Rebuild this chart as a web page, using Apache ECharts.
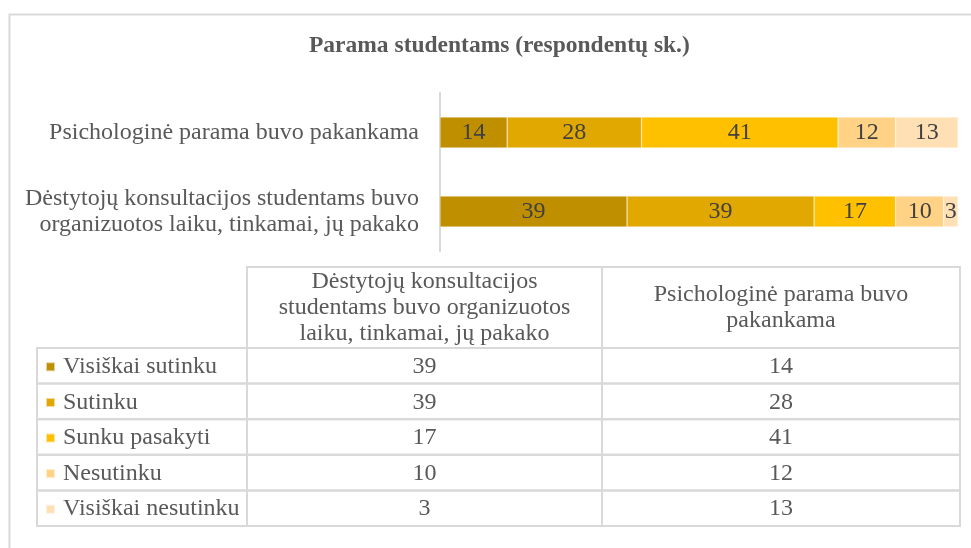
<!DOCTYPE html>
<html>
<head>
<meta charset="utf-8">
<script src="https://cdn.jsdelivr.net/npm/echarts@6/dist/echarts.min.js"></script>
<style>
  html, body { margin: 0; padding: 0; background: #fff; }
  #main { width: 971px; height: 548px; }
</style>
</head>
<body>
<div id="main"></div>
<script>
// kategorijos (apacia -> virsus)
var categories = [
  'Dėstytojų konsultacijos studentams buvo organizuotos laiku, tinkamai, jų pakako',
  'Psichologinė parama buvo pakankama'
];
var axisLabels = [
  'Dėstytojų konsultacijos studentams buvo\norganizuotos laiku, tinkamai, jų pakako',
  'Psichologinė parama buvo pakankama'
];
var tableHeaders = [
  'Dėstytojų konsultacijos\nstudentams buvo organizuotos\nlaiku, tinkamai, jų pakako',
  'Psichologinė parama buvo\npakankama'
];
var seriesNames = ['Visiškai sutinku', 'Sutinku', 'Sunku pasakyti', 'Nesutinku', 'Visiškai nesutinku'];
var visiskaiSutinku = [39, 14];
var sutinku = [39, 28];
var sunkuPasakyti = [17, 41];
var nesutinku = [10, 12];
var visiskaiNesutinku = [3, 13];
var colors = ['#BF8F00', '#E0A800', '#FFC000', '#FFD285', '#FFE0B4'];

var values = [visiskaiSutinku, sutinku, sunkuPasakyti, nesutinku, visiskaiNesutinku];
var font = '"Liberation Serif", "Times New Roman", serif';
var gridLine = '#d9d9d9';

var chartDom = document.getElementById('main');
var myChart = echarts.init(chartDom);

// lentele apacioje
var tblLeft = 37, colA = 247, colB = 602, tblRight = 960;
var headTop = 267, rowTop = 348, tblBottom = 526;
var rowH = (tblBottom - rowTop) / 5;
var graphics = [];

graphics.push({
  type: 'rect', left: 7, top: 12, silent: true,
  shape: { x: 0, y: 0, width: 1000, height: 600 },
  style: { fill: 'none', stroke: gridLine, lineWidth: 2 }
});

function cell(x, y, w, h) {
  graphics.push({
    type: 'rect', silent: true,
    shape: { x: x, y: y, width: w, height: h },
    style: { fill: 'none', stroke: gridLine, lineWidth: 2 }
  });
}
function txt(x, y, s) {
  graphics.push({
    type: 'text', silent: true, x: x, y: y,
    style: { text: s, font: '24px ' + font, fill: '#595959', align: 'center', verticalAlign: 'middle', lineHeight: 26 }
  });
}

cell(colA, headTop, colB - colA, rowTop - headTop);
cell(colB, headTop, tblRight - colB, rowTop - headTop);
txt((colA + colB) / 2, (headTop + rowTop) / 2, tableHeaders[0]);
txt((colB + tblRight) / 2, (headTop + rowTop) / 2, tableHeaders[1]);

for (var i = 0; i < seriesNames.length; i++) {
  var y0 = rowTop + i * rowH;
  cell(tblLeft, y0, colA - tblLeft, rowH);
  cell(colA, y0, colB - colA, rowH);
  cell(colB, y0, tblRight - colB, rowH);
  txt((colA + colB) / 2, y0 + rowH / 2 + 1, String(values[i][0]));
  txt((colB + tblRight) / 2, y0 + rowH / 2 + 1, String(values[i][1]));
}

var series = seriesNames.map(function (name, i) {
  return {
    name: name,
    type: 'bar',
    stack: 'total',
    barCategoryGap: '61%',
    itemStyle: { color: colors[i], borderColor: 'rgba(255,255,255,0.6)', borderWidth: 0.5 },
    label: {
      show: true, position: 'inside',
      color: '#404040', fontFamily: font, fontSize: 24
    },
    data: values[i]
  };
});

var option = {
  animation: false,
  color: colors,
  title: {
    text: 'Parama studentams (respondentų sk.)',
    left: 304, top: 29,
    textStyle: { fontFamily: font, fontSize: 23.5, fontWeight: 'bold', color: '#595959' }
  },
  legend: {
    orient: 'vertical',
    left: 45, top: rowTop + rowH / 2 - 12 + 1,
    padding: 0,
    itemWidth: 9, itemHeight: 9, itemGap: rowH - 24,
    icon: 'rect', selectedMode: false,
    textStyle: { fontFamily: font, fontSize: 24, color: '#595959', lineHeight: 24, padding: [0, 0, 0, 3] },
    data: seriesNames
  },
  grid: { left: 440, right: 13, top: 93, bottom: 297, containLabel: false },
  xAxis: {
    type: 'value', min: 0, max: 108, show: false
  },
  yAxis: {
    type: 'category',
    data: categories,
    axisLine: { show: true, lineStyle: { color: gridLine, width: 2 } },
    axisTick: { show: false },
    axisLabel: {
      margin: 21, fontFamily: font, fontSize: 24, color: '#595959', lineHeight: 26, align: 'right',
      formatter: function (v, idx) { return axisLabels[idx]; }
    }
  },
  graphic: graphics,
  series: series
};

myChart.setOption(option);
</script>
</body>
</html>
